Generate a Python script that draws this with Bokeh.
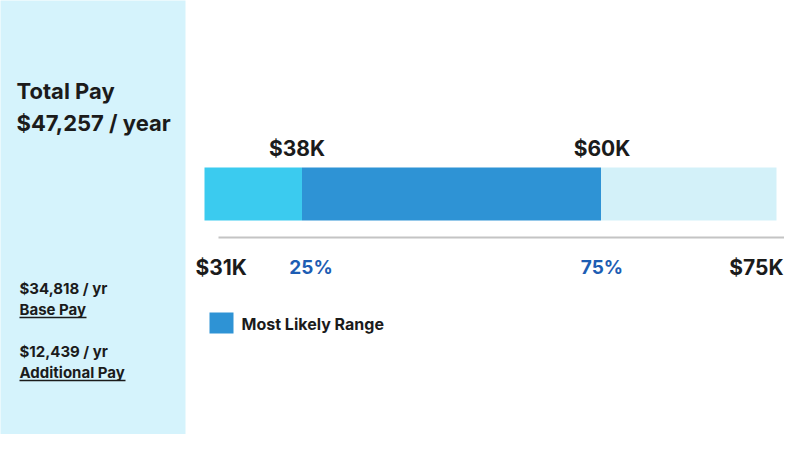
from bokeh.plotting import figure
from bokeh.models import Range1d
from bokeh.core.properties import value
from bokeh.embed import file_html
from bokeh.resources import INLINE

# ---- data ----
total_title = "Total Pay"
total_pay = "$47,257 / year"
base_pay = "$34,818 / yr"
base_label = "Base Pay"
additional_pay = "$12,439 / yr"
additional_label = "Additional Pay"
range_min = 31000
range_max = 75000
p25_edge = 38500
p75_edge = 61500
top_labels = ["$38K", "$60K"]
bottom_labels = ["$31K", "25%", "75%", "$75K"]
legend_label = "Most Likely Range"

# ---- layout (canvas pixels, y from top) ----
W, H = 784, 434
BAR_L, BAR_R = 204, 776
scale = (BAR_R - BAR_L) / (range_max - range_min)
usd_start = range_min - BAR_L / scale
usd_end = range_max + (W - BAR_R) / scale

FONT = value("Inter")
DARK = "#1b1b1b"
BLUE = "#2e93d5"
PCT = "#1d5db3"

p = figure(width=W, height=H, x_range=Range1d(0, W), y_range=Range1d(H, 0),
           output_backend="svg", toolbar_location=None, min_border=0,
           x_axis_type=None, y_axis_type=None, outline_line_color=None)
p.grid.visible = False
p.background_fill_color = "white"
p.border_fill_color = "white"
p.extra_x_ranges = {"usd": Range1d(usd_start, usd_end)}

# left panel
p.quad(left=[-10], right=[185], top=[-10], bottom=[H + 10],
       fill_color="#d5f3fc", line_color=None)

# bar segments
seg_left = [range_min, p25_edge, p75_edge]
seg_right = [p25_edge, p75_edge, range_max]
seg_colors = ["#3bcbef", BLUE, "#d3f1f9"]
p.quad(left=seg_left, right=seg_right, top=[167] * 3, bottom=[220] * 3,
       fill_color=seg_colors, line_color=None, x_range_name="usd")

# baseline
p.segment(x0=[218], y0=[237], x1=[785], y1=[237], line_color="#c4c4c4", line_width=2)

# top labels
p.text(x=[p25_edge, p75_edge], y=[148, 148], text=top_labels, x_range_name="usd",
       x_offset=[-5, 1],
       text_align="center", text_baseline="middle", text_font=FONT,
       text_font_style="bold", text_font_size="21px", text_color=DARK)

# bottom labels
p.text(x=[range_min, p25_edge, p75_edge, range_max], y=[267] * 4, text=bottom_labels,
       x_range_name="usd", x_offset=[-9, 9, 1, 7],
       text_align=["left", "center", "center", "right"], text_baseline="middle",
       text_font=FONT, text_font_style="bold",
       text_font_size=["21px", "19px", "19px", "21px"],
       text_color=[DARK, PCT, PCT, DARK])

# legend
p.quad(left=[209], right=[233], top=[312], bottom=[333], fill_color=BLUE, line_color=None)
p.text(x=[241], y=[323], text=[legend_label], text_align="left", text_baseline="middle",
       text_font=FONT, text_font_style="bold", text_font_size="16px", text_color=DARK)

# left panel texts
p.text(x=[16, 16], y=[90, 122], text=[total_title, total_pay], text_align="left",
       text_baseline="middle", text_font=FONT, text_font_style="bold",
       text_font_size="22px", text_color=DARK)
p.text(x=[19, 19, 19, 19], y=[288, 309, 351, 372],
       text=[base_pay, base_label, additional_pay, additional_label],
       text_align="left", text_baseline="middle", text_font=FONT,
       text_font_style="bold", text_font_size="15px", text_color=DARK)
p.segment(x0=[19, 19], y0=[317, 380], x1=[86, 125], y1=[317, 380],
          line_color=DARK, line_width=1.3)

open("out.html", "w").write(file_html(p, INLINE))
